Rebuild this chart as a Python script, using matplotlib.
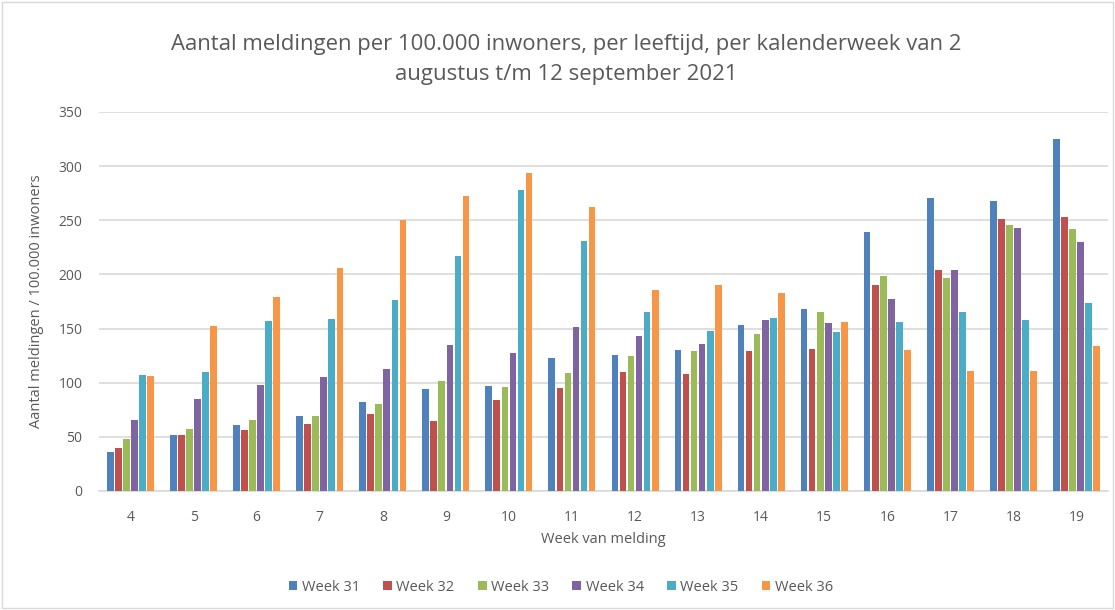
import numpy as np
import matplotlib.pyplot as plt
from matplotlib.patches import Rectangle

plt.rcParams['font.family'] = ['Open Sans', 'DejaVu Sans']

# leeftijd (x-as)
ages = ["4", "5", "6", "7", "8", "9", "10", "11", "12", "13", "14", "15", "16", "17", "18", "19"]
series_names = ["Week 31", "Week 32", "Week 33", "Week 34", "Week 35", "Week 36"]

week31 = [36, 52, 61, 69, 82, 94, 97, 123, 126, 130, 153, 168, 239, 271, 268, 325]
week32 = [40, 52, 56, 62, 71, 65, 84, 95, 110, 108, 129, 131, 190, 204, 251, 253]
week33 = [48, 57, 66, 69, 80, 102, 96, 109, 125, 129, 145, 165, 199, 197, 246, 242]
week34 = [66, 85, 98, 105, 113, 135, 127, 151, 143, 136, 158, 155, 177, 204, 243, 230]
week35 = [107, 110, 157, 159, 176, 217, 278, 231, 165, 148, 160, 147, 156, 165, 158, 174]
week36 = [106, 152, 179, 206, 250, 272, 294, 262, 186, 190, 183, 156, 130, 111, 111, 134]

values = [week31, week32, week33, week34, week35, week36]
colors = ["#4F81BD", "#C0504D", "#9BBB59", "#8064A2", "#4BACC6", "#F79646"]
text_color = "#595959"

fig = plt.figure(figsize=(11.15, 6.1), dpi=100)
ax = fig.add_axes([99 / 1115, 1 - 491 / 610, 1009 / 1115, 379 / 610])

x = np.arange(len(ages))
slot = 0.128
bar_w = 0.106
for i, (name, vals) in enumerate(zip(series_names, values)):
    ax.bar(x + (i - 2.5) * slot, vals, width=bar_w, color=colors[i], label=name, zorder=3)

ax.set_xlim(-0.5, len(ages) - 0.5)
ax.set_ylim(0, 350)
ax.set_yticks(range(0, 351, 50))
ax.set_xticks(x)
ax.set_xticklabels(ages)
ax.grid(axis="y", color="#D9D9D9", linewidth=1.2, zorder=0)
for s in ["top", "right", "left"]:
    ax.spines[s].set_visible(False)
ax.spines["bottom"].set_color("#D9D9D9")
ax.spines["bottom"].set_linewidth(1.2)
ax.tick_params(axis="both", length=0, colors=text_color, labelsize=10)
ax.tick_params(axis="x", pad=14)
ax.tick_params(axis="y", pad=12)

ax.set_xlabel("Week van melding", color=text_color, fontsize=10.5, labelpad=5)
ax.set_ylabel("Aantal meldingen / 100.000 inwoners", color=text_color, fontsize=10.5, labelpad=10)

fig.text(0.508, 0.902, "Aantal meldingen per 100.000 inwoners, per leeftijd, per kalenderweek van 2\naugustus t/m 12 september 2021",
         ha="center", va="center", fontsize=15.9, color=text_color, linespacing=1.55)

leg = fig.legend(loc="center", bbox_to_anchor=(0.503, 0.037), ncol=6, frameon=False,
                 fontsize=10.5, handlelength=0.6, handleheight=0.6, handletextpad=0.3,
                 columnspacing=1.6, labelcolor=text_color)

fig.patches.append(Rectangle((0.002, 0.003), 0.996, 0.994, transform=fig.transFigure,
                             fill=False, edgecolor="#D9D9D9", linewidth=1))

fig.savefig("out.png", dpi=100)
